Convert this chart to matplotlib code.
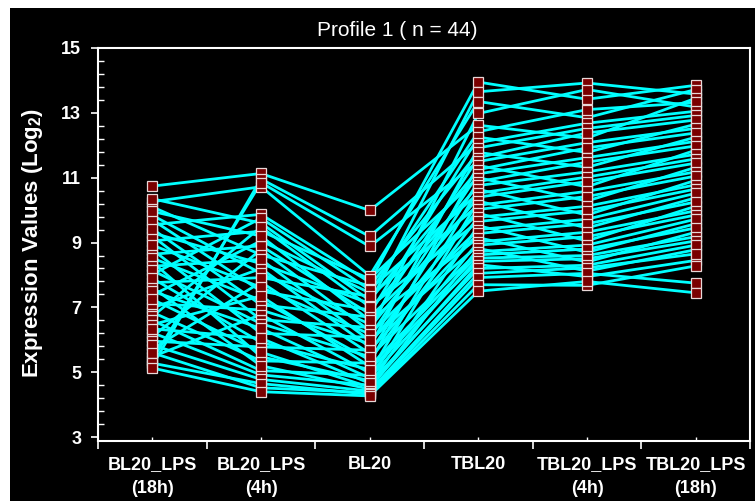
import matplotlib
matplotlib.use('Agg')
import matplotlib.pyplot as plt
from matplotlib.patches import Rectangle
from matplotlib.ticker import AutoMinorLocator

plt.rcParams['font.family'] = ['Liberation Sans', 'DejaVu Sans']
plt.rcParams['mathtext.fontset'] = 'custom'
plt.rcParams['mathtext.rm'] = 'Liberation Sans:bold'

# === data (44 genes) ===
conditions = ['BL20_LPS\n(18h)', 'BL20_LPS\n(4h)', 'BL20', 'TBL20',
              'TBL20_LPS\n(4h)', 'TBL20_LPS\n(18h)']

bl20_lps_18h = [9.55, 9.30, 10.26, 6.10, 10.74, 7.38, 8.64, 5.20, 6.98, 10.10, 9.84,
                5.38, 6.85, 10.35, 8.78, 9.05, 5.72, 9.70, 5.48, 8.02, 9.20, 8.40,
                7.76, 7.12, 9.42, 8.52, 6.72, 6.22, 8.92, 5.96, 9.96, 6.60, 8.27,
                7.62, 8.14, 6.47, 7.50, 7.90, 7.25, 6.34, 5.84, 5.60, 5.28, 5.13]
bl20_lps_4h = [9.87, 8.35, 10.72, 8.78, 11.13, 9.05, 8.90, 10.96, 8.20, 8.62, 8.05,
               10.85, 5.35, 9.60, 6.20, 9.35, 7.78, 7.50, 6.78, 9.75, 6.62, 5.48,
               7.92, 6.92, 7.08, 7.22, 9.48, 4.92, 7.62, 5.78, 9.20, 5.05, 8.48,
               5.20, 6.50, 7.35, 6.35, 5.92, 5.62, 6.05, 4.78, 4.52, 4.65, 4.40]
bl20 = [7.78, 7.12, 7.98, 6.28, 9.99, 7.45, 6.80, 9.19, 5.78, 7.66, 6.48, 8.88,
        5.28, 7.22, 6.08, 7.88, 5.58, 6.92, 4.98, 7.55, 6.38, 4.74, 7.34, 5.88,
        6.70, 5.38, 7.02, 4.60, 6.18, 5.68, 6.60, 4.90, 5.98, 4.48, 5.48, 5.18,
        4.82, 5.08, 4.54, 4.66, 4.42, 4.37, 4.32, 4.27]
tbl20 = [13.95, 13.65, 13.35, 12.98, 12.62, 12.42, 12.25, 12.08, 11.92, 11.78, 11.62,
         11.50, 11.38, 11.25, 11.12, 11.00, 10.88, 10.76, 10.64, 10.52, 10.40, 10.28,
         10.15, 10.02, 9.90, 9.78, 9.65, 9.52, 9.40, 9.28, 9.15, 9.02, 8.92,
         8.82, 8.72, 8.62, 8.52, 8.42, 8.32, 8.20, 8.05, 7.92, 7.70, 7.50]
tbl20_lps_4h = [13.42, 13.92, 12.85, 13.72, 12.22, 13.10, 11.78, 12.68, 12.52, 11.32,
                12.38, 12.08, 10.72, 11.92, 11.62, 10.28, 11.48, 11.18, 9.85, 11.02,
                10.88, 9.45, 10.58, 10.42, 9.05, 10.12, 9.98, 8.70, 9.72, 9.58, 8.40,
                9.32, 9.18, 8.12, 8.92, 8.80, 8.60, 8.50, 7.95, 8.30, 8.22, 8.05,
                7.68, 7.80]
tbl20_lps_18h = [13.85, 13.58, 13.72, 13.18, 13.45, 13.32, 12.65, 13.05, 12.92, 12.25,
                 12.78, 12.52, 11.85, 12.38, 12.12, 11.32, 11.98, 11.72, 10.92, 11.58,
                 11.45, 10.38, 11.18, 11.05, 10.12, 10.78, 10.65, 9.58, 10.52, 10.25,
                 9.32, 9.98, 9.85, 8.78, 9.72, 9.45, 9.18, 9.05, 8.45, 8.92, 8.65,
                 7.75, 8.28, 7.45]

columns = [bl20_lps_18h, bl20_lps_4h, bl20, tbl20, tbl20_lps_4h, tbl20_lps_18h]

# === figure ===
fig = plt.figure(figsize=(7.55, 5.01), dpi=100, facecolor='white')
fig.add_artist(Rectangle((10 / 755, 0), 1, 493 / 501, transform=fig.transFigure,
                         facecolor='black', edgecolor='none', zorder=-10))
ax = fig.add_axes([98 / 755, 1 - 441 / 501, 652 / 755, 393 / 501])
ax.set_facecolor('black')

xs = list(range(len(conditions)))
for prof in zip(*columns):
    ax.plot(xs, prof, color='#00ffff', lw=2.0, zorder=2, solid_joinstyle='round')
for i, col in enumerate(columns):
    ax.plot([i] * len(col), col, 's', ms=6.6, mfc='#7a0000', mec='#e8d8d8',
            mew=0.9, ls='none', zorder=3)

ax.set_xlim(-0.5, 5.5)
ax.set_ylim(2.88, 15)

for s in ax.spines.values():
    s.set_color('white')
    s.set_linewidth(1.5)

ax.set_yticks(range(3, 16, 2))
ax.yaxis.set_minor_locator(AutoMinorLocator(5))
ax.tick_params(axis='y', which='major', direction='out', length=5, width=1.2,
               colors='white', labelsize=13, pad=7)
ax.tick_params(axis='y', which='minor', direction='in', length=4, width=1, color='white')

ax.set_xticks(xs)
ax.set_xticklabels(conditions, linespacing=1.55)
ax.set_xticks([i - 0.5 for i in range(7)], minor=True)
ax.tick_params(axis='x', which='major', direction='in', length=3, width=1,
               colors='white', labelsize=13, pad=11)
ax.tick_params(axis='x', which='minor', direction='out', length=6, width=1.2, color='white')
plt.setp(ax.get_xticklabels() + ax.get_yticklabels(), fontweight='bold')

fig.text(33 / 755, 0.515, 'Expression Values (Log$_2$)', rotation=90, fontsize=16,
         fontweight='bold', color='white', ha='center', va='center')
fig.text(397 / 755, 1 - 30 / 501, 'Profile 1 ( n = 44)', ha='center', va='center',
         fontsize=15, color='white')

fig.savefig('out.png', dpi=100, facecolor=fig.get_facecolor())
